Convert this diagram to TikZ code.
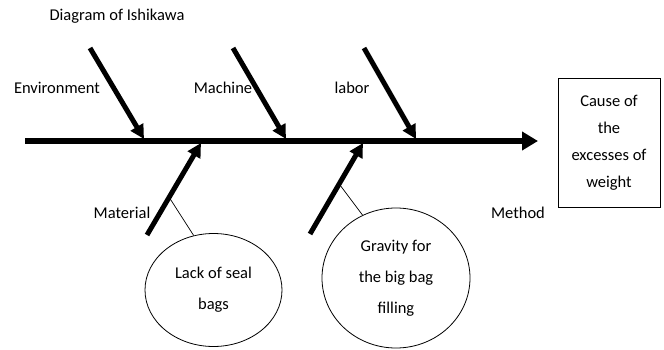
\documentclass[tikz,border=0pt]{standalone}
\usepackage{fontspec}
\setmainfont{Carlito}
\usetikzlibrary{arrows.meta,shapes.geometric,calc}
\begin{document}
\begin{tikzpicture}[x=1pt,y=-1pt,
  lbl/.style={font=\fontsize{16.5}{20}\selectfont, inner sep=0pt},
  bone/.style={line width=5pt, -{Triangle[length=14pt,width=14pt]}},
  spine/.style={line width=5.5pt, -{Triangle[length=16pt,width=18pt]}},
  causebox/.style={draw, line width=0.8pt, minimum width=102pt, minimum height=129pt, align=center, inner sep=0pt, font=\fontsize{16.5}{27}\selectfont},
  bubble/.style={draw, ellipse, line width=0.8pt, inner sep=0pt, align=center, font=\fontsize{16.5}{31}\selectfont},
  thin/.style={line width=0.7pt}]
\useasboundingbox (0,0) rectangle (664,350);
% spine
\coordinate (s0) at (25,141);
\coordinate (s1) at (538,141);
\draw[spine] (s0) -- (s1);
% top bones
\coordinate (env0) at (90,48);  \coordinate (env1) at (144,139);
\coordinate (mac0) at (233,48); \coordinate (mac1) at (286,139);
\coordinate (lab0) at (364,48); \coordinate (lab1) at (416,139);
\draw[bone] (env0) -- (env1);
\draw[bone] (mac0) -- (mac1);
\draw[bone] (lab0) -- (lab1);
% bottom bones
\coordinate (mat0) at (147,235); \coordinate (mat1) at (201,143);
\coordinate (met0) at (310,234); \coordinate (met1) at (363,143);
\draw[bone] (mat0) -- (mat1);
\draw[bone] (met0) -- (met1);
% labels
\node[lbl] (title) at (117,16) {Diagram of Ishikawa};
\node[lbl] (envl) at (57,88) {Environment};
\node[lbl] (macl) at (223,88) {Machine};
\node[lbl] (labl) at (352,88) {labor};
\node[lbl] (matl) at (122,213) {Material};
\node[lbl] (metl) at (518,213) {Method};
% effect box
\node[causebox] (eff) at (609,142.5) {Cause of\\the\\excesses of\\weight};
% ellipses
\node[bubble, minimum width=137pt, minimum height=113pt] (e1) at (213.5,290) {Lack of seal\\bags};
\node[bubble, minimum width=148pt, minimum height=140pt] (e2) at (396,278) {Gravity for\\the big bag\\filling};
% thin connectors
\coordinate (c1) at ($(mat0)!0.41!(mat1)$);
\coordinate (c2) at ($(met0)!0.55!(met1)$);
\draw[thin] (c1) -- (e1.110);
\draw[thin] (c2) -- (e2.118);
\end{tikzpicture}
\end{document}
